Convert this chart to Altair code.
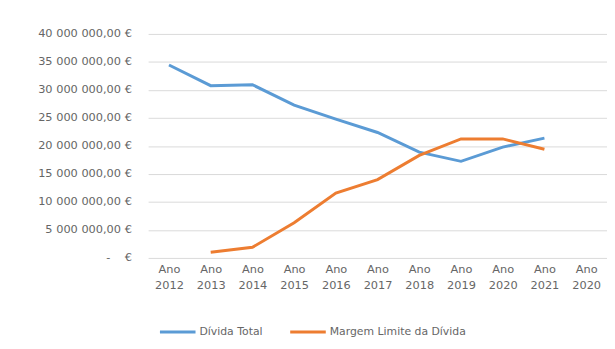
import altair as alt
import pandas as pd

years = ["2012", "2013", "2014", "2015", "2016", "2017", "2018", "2019", "2020", "2021", "2020b"]
divida_total = [34.45e6, 30.76e6, 30.93e6, 27.3e6, 24.8e6, 22.4e6, 18.9e6, 17.25e6, 19.8e6, 21.4e6, None]
margem_limite = [None, 1.0e6, 1.9e6, 6.3e6, 11.6e6, 14.0e6, 18.3e6, 21.25e6, 21.25e6, 19.4e6, None]
series_names = ["Dívida Total", "Margem Limite da Dívida"]
colors = ["#5B9BD5", "#ED7D31"]

rows = []
for name, vals in zip(series_names, [divida_total, margem_limite]):
    for y, v in zip(years, vals):
        if v is not None:
            rows.append({"ano": y, "valor": v, "serie": name})
df = pd.DataFrame(rows)

font = "DejaVu Sans"
gray = "#666666"

lines = alt.Chart(df).mark_line(strokeWidth=3).encode(
    x=alt.X("ano:O", scale=alt.Scale(domain=years, paddingInner=0, paddingOuter=0.5),
            axis=alt.Axis(title=None, labelAngle=0, domain=False, ticks=False, grid=False,
                          labelExpr="['Ano', slice(datum.label, 0, 4)]",
                          labelFont=font, labelFontSize=11.5, labelColor=gray,
                          labelPadding=6, labelLineHeight=16)),
    y=alt.Y("valor:Q", scale=alt.Scale(domain=[0, 40e6], nice=False),
            axis=alt.Axis(title=None, values=[i * 5e6 for i in range(9)],
                          format="$,.2f", domain=False, ticks=False, labelOverlap=False,
                          labelExpr="datum.value == 0 ? '-\u00a0\u00a0\u00a0\u00a0€' : datum.label",
                          labelFont=font, labelFontSize=11.5, labelColor=gray,
                          labelPadding=17, gridColor="#D9D9D9", gridWidth=1)),
    color=alt.Color("serie:N", scale=alt.Scale(domain=series_names, range=colors),
                    legend=alt.Legend(title=None, orient="none", legendX=10, legendY=282,
                                      direction="horizontal", symbolType="stroke",
                                      symbolSize=1300, symbolStrokeWidth=3,
                                      labelFont=font, labelFontSize=11, labelColor=gray,
                                      columnPadding=20, labelOffset=2)),
)

chart = lines.properties(
    width=465, height=227,
    autosize="none",
    padding={"left": 142, "top": 24, "right": 0, "bottom": 90},
).configure(
    locale={"number": {"decimal": ",", "thousands": "\u00a0", "grouping": [3], "currency": ["", "\u00a0€"]}}
).configure_view(stroke=None)

chart.save("out.html", embed_options={"renderer": "svg", "actions": False})
